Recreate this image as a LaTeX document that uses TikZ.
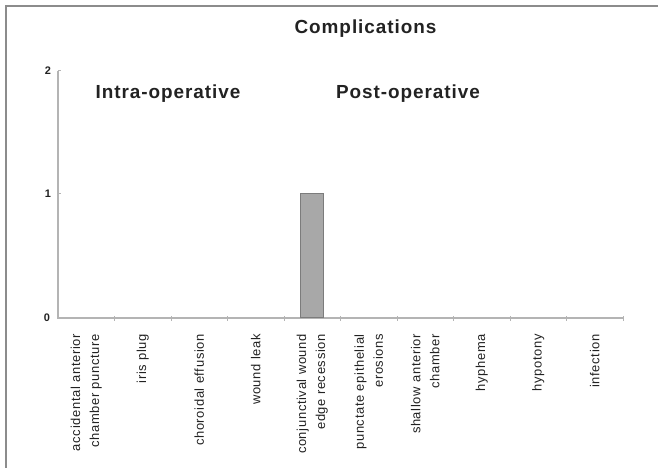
\documentclass[tikz,border=0pt]{standalone}
\usepackage{fontspec}
\setmainfont{Liberation Sans}
\usetikzlibrary{positioning}

\definecolor{framegray}{HTML}{8C8C8C}
\definecolor{axisgray}{HTML}{B4B4B4}
\definecolor{barfill}{HTML}{A8A8A8}
\definecolor{bardraw}{HTML}{7C7C7C}
\definecolor{inkgray}{HTML}{222222}

\begin{document}
\begin{tikzpicture}[x=1bp, y=-1bp,
	heading/.style={anchor=base, inner sep=0pt, text=inkgray,
		font=\fontsize{19}{22}\selectfont\bfseries\addfontfeature{LetterSpace=5}},
	ticklabel/.style={anchor=center, inner sep=0pt, text=inkgray,
		font=\fontsize{11}{13}\selectfont\bfseries},
	catlabel/.style={rotate=90, anchor=east, inner sep=0pt, align=right, text=inkgray,
		font=\fontsize{13}{19}\selectfont\addfontfeature{LetterSpace=5}}]
	\useasboundingbox (0,0) rectangle (658,468);
	\draw[framegray, line width=1.5bp] (6,468) |- (658,6);

	% axes
	\coordinate (O) at (58,318);
	\coordinate (YTOP) at (58,71);
	\coordinate (XEND) at (623,318);
	\draw[axisgray, line width=1.5bp] (YTOP) -- (O) -- (XEND);
	\foreach \y in {71,194}
		\draw[axisgray, line width=1bp] (58,\y) -- (61,\y);
	\foreach \i in {1,...,10}
		\draw[axisgray, line width=1bp] (58+56.5*\i,316) -- (58+56.5*\i,321);

	\node[ticklabel] (Y0) at (47,318) {0};
	\node[ticklabel] (Y1) at (48,194) {1};
	\node[ticklabel] (Y2) at (48,71) {2};

	% the one bar
	\node[draw=bardraw, fill=barfill, line width=1bp, inner sep=0pt,
		minimum width=23bp, minimum height=124bp, anchor=south] (BAR) at (312.25,318) {};

	\node[heading] (TITLE) at (365.5,34) {Complications};
	\node[heading] (INTRA) at (168,99) {Intra-operative};
	\node[heading] (POST) at (408,99) {Post-operative};

	\foreach \i/\txt in {1/{accidental anterior\\chamber puncture}, 2/{iris plug},
		3/{choroidal effusion}, 4/{wound leak}, 5/{conjunctival wound\\edge recession},
		6/{punctate epithelial\\erosions}, 7/{shallow anterior\\chamber}, 8/{hyphema},
		9/{hypotony}, 10/{infection}}
		\node[catlabel] (C\i) at (58+56.5*\i-28.25,334) {\txt};
\end{tikzpicture}
\end{document}
